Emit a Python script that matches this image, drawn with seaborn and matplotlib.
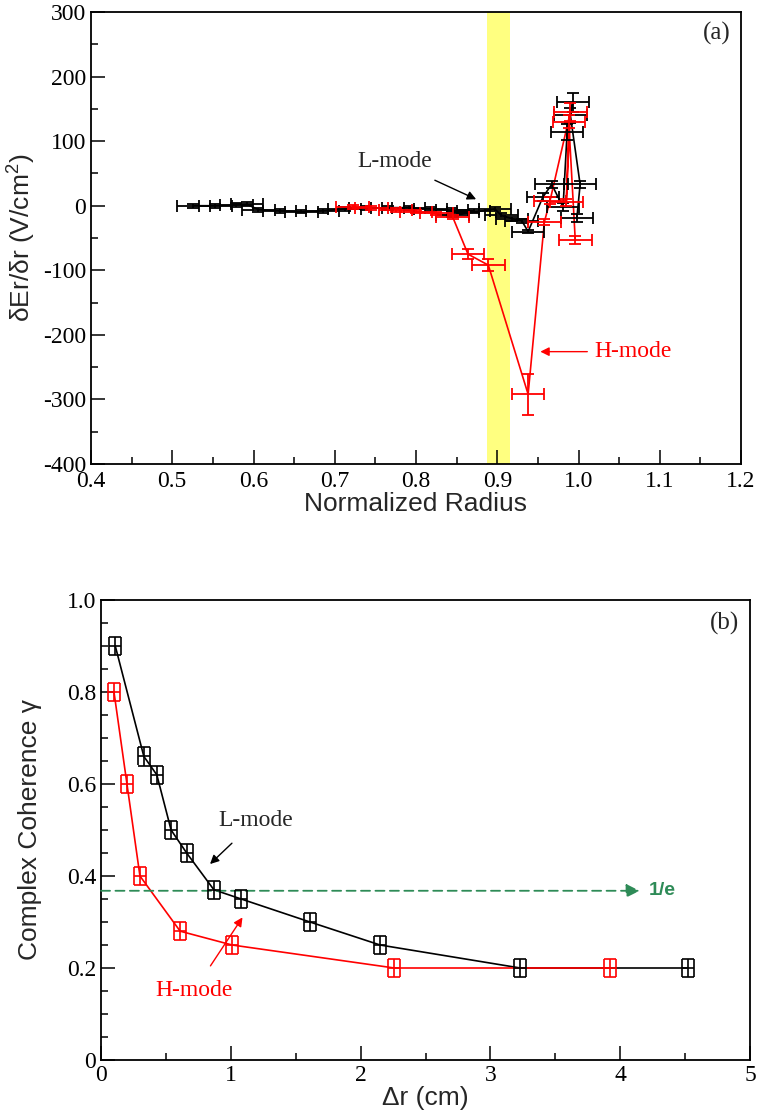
#!/usr/bin/env python3

import numpy as np
import pandas as pd
import matplotlib
matplotlib.use('Agg')
import matplotlib.pyplot as plt
from matplotlib.ticker import MultipleLocator, FixedLocator
import seaborn as sns

# ---- panel (a): dEr/dr vs normalized radius ----
l_x = [0.526, 0.553, 0.579, 0.592, 0.606, 0.632, 0.659, 0.685, 0.712, 0.738,
       0.765, 0.791, 0.818, 0.844, 0.858, 0.871, 0.845, 0.897, 0.905, 0.918,
       0.930, 0.938, 0.956, 0.967, 0.981, 0.986, 0.993, 0.990, 1.002, 0.998]
l_y = [0, 0, 1, 2, -6, -8, -9, -8, -5, -4,
       -3, -3, -5, -7, -9, -8, -15, -5, -15, -20,
       -23, -40, 13, 33, -2, 114, 160, 140, 33, -19]
l_xerr = [0.02] * 30
l_yerr = [3] * 22 + [6, 6, 6, 12, 15, 12, 6, 6]

h_x = [0.722, 0.745, 0.775, 0.800, 0.825, 0.845, 0.864, 0.889, 0.938, 0.958,
       0.965, 0.990, 0.985, 0.988, 0.996]
h_y = [-2, -3, -6, -9, -12, -17, -75, -92, -292, -25,
       8, 145, 5, 130, -53]
h_xerr = [0.02] * 15
h_yerr = [3, 3, 3, 3, 3, 3, 8, 9, 32, 5, 5, 14, 5, 10, 6]

band_lo, band_hi = 0.887, 0.916

# ---- panel (b): coherence vs delta r ----
lb_x = [0.11, 0.33, 0.43, 0.54, 0.66, 0.87, 1.08, 1.61, 2.15, 3.23, 4.52]
lb_y = [0.90, 0.66, 0.62, 0.50, 0.45, 0.37, 0.35, 0.30, 0.25, 0.20, 0.20]
hb_x = [0.10, 0.20, 0.30, 0.61, 1.01, 2.26, 3.92]
hb_y = [0.80, 0.60, 0.40, 0.28, 0.25, 0.20, 0.20]
b_xerr = 0.046
b_yerr = 0.02
one_over_e = 1 / np.e

sns.set_style('ticks')
plt.rcParams['font.family'] = ['Liberation Serif', 'DejaVu Serif']
plt.rcParams['mathtext.fontset'] = 'custom'
plt.rcParams['mathtext.rm'] = 'Liberation Sans'
plt.rcParams['axes.linewidth'] = 1.3
plt.rcParams['axes.unicode_minus'] = False

tick_fs = 17
lab_fs = 19
sans = ['Liberation Sans', 'DejaVu Sans']

fig = plt.figure(figsize=(7.58, 11.19), dpi=100)
ax1 = fig.add_axes([91 / 758, 1 - 464 / 1119, 650 / 758, 452 / 1119])
ax2 = fig.add_axes([101 / 758, 1 - 1060 / 1119, 649 / 758, 460 / 1119])


def style_axes(ax):
	ax.tick_params(which='both', direction='in', top=False, right=False,
		labelsize=tick_fs, width=1.1, colors='black')
	ax.tick_params(which='major', length=10)
	ax.tick_params(which='minor', length=5)
	for s in ax.spines.values():
		s.set_visible(True)
		s.set_color('black')


# panel (a)
ax1.axvspan(band_lo, band_hi, color='#ffff80', lw=0, zorder=0)
top_df = pd.DataFrame({'x': l_x + h_x, 'y': l_y + h_y,
	'mode': ['L'] * len(l_x) + ['H'] * len(h_x)})
sns.lineplot(data=top_df, x='x', y='y', hue='mode', sort=False, estimator=None,
	palette={'L': 'black', 'H': 'red'}, lw=1.2, legend=False, ax=ax1, zorder=3)
ax1.errorbar(l_x, l_y, xerr=l_xerr, yerr=l_yerr, fmt='none', ecolor='black',
	elinewidth=1.3, capsize=4, capthick=1.3, zorder=4)
ax1.errorbar(h_x, h_y, xerr=h_xerr, yerr=h_yerr, fmt='none', ecolor='red',
	elinewidth=1.3, capsize=4, capthick=1.3, zorder=4)
ax1.set_xlim(0.4, 1.2)
ax1.set_ylim(-400, 300)
ax1.xaxis.set_major_locator(MultipleLocator(0.1))
ax1.xaxis.set_minor_locator(MultipleLocator(0.05))
ax1.yaxis.set_major_locator(MultipleLocator(100))
ax1.yaxis.set_minor_locator(MultipleLocator(50))
ax1.set_xticklabels([f'{v:.1f}' for v in ax1.get_xticks()])
style_axes(ax1)
ax1.tick_params(axis='x', pad=5)
ax1.set_xlabel('Normalized Radius', fontsize=lab_fs, family=sans, labelpad=0)
ax1.set_ylabel('\u03b4Er/\u03b4r (V/cm$^2$)', fontsize=lab_fs, family=sans, labelpad=4)
ax1.annotate('L-mode', xy=(0.874, 10), xytext=(0.774, 68), fontsize=17,
	ha='center', va='center',
	arrowprops=dict(arrowstyle='-|>', color='black', lw=1.0, shrinkA=8, shrinkB=0,
		mutation_scale=13))
ax1.annotate('H-mode', xy=(0.953, -226), xytext=(1.02, -226), fontsize=17,
	color='red', ha='left', va='center',
	arrowprops=dict(arrowstyle='-|>', color='red', lw=1.0, shrinkA=3, shrinkB=0,
		mutation_scale=13))
ax1.text(1.17, 267, '(a)', fontsize=18, ha='center', va='center')

# panel (b)
bot_df = pd.DataFrame({'x': lb_x + hb_x, 'y': lb_y + hb_y,
	'mode': ['L'] * len(lb_x) + ['H'] * len(hb_x)})
sns.lineplot(data=bot_df, x='x', y='y', hue='mode', sort=False, estimator=None,
	palette={'L': 'black', 'H': 'red'}, lw=1.2, legend=False, ax=ax2, zorder=3)
for xs, ys, c in [(lb_x, lb_y, 'black'), (hb_x, hb_y, 'red')]:
	ax2.errorbar(xs, ys, xerr=b_xerr, fmt='none', ecolor=c, elinewidth=1.2,
		capsize=6.3, capthick=1.2, zorder=4)
	ax2.errorbar(xs, ys, yerr=b_yerr, fmt='none', ecolor=c, elinewidth=1.2,
		capsize=4.3, capthick=1.2, zorder=4)
ax2.annotate('', xy=(4.15, one_over_e), xytext=(0.0, one_over_e),
	arrowprops=dict(arrowstyle='-|>', color='#2e8b57', lw=1.3, ls=(0, (5, 3)),
		shrinkA=0, shrinkB=0, mutation_scale=20))
ax2.text(4.22, one_over_e, '1/e', color='#2e8b57', fontsize=14, fontweight='bold',
	family=sans, ha='left', va='center')
ax2.set_xlim(0, 5)
ax2.set_ylim(0, 1.0)
ax2.xaxis.set_major_locator(MultipleLocator(1))
ax2.xaxis.set_minor_locator(MultipleLocator(0.5))
ax2.yaxis.set_major_locator(FixedLocator([0, 0.2, 0.4, 0.6, 0.8, 1.0]))
ax2.yaxis.set_minor_locator(MultipleLocator(0.05))
ax2.set_yticklabels(['0', '0.2', '0.4', '0.6', '0.8', '1.0'])
style_axes(ax2)
ax2.set_xlabel('\u0394r (cm)', fontsize=lab_fs, family=sans, labelpad=0)
ax2.set_ylabel('Complex Coherence \u03b3', fontsize=lab_fs, family=sans, labelpad=18)
ax2.annotate('L-mode', xy=(0.84, 0.426), xytext=(1.19, 0.52), fontsize=17,
	ha='center', va='center',
	arrowprops=dict(arrowstyle='-|>', color='black', lw=1.0, shrinkA=9, shrinkB=0,
		mutation_scale=13))
ax2.annotate('H-mode', xy=(1.09, 0.31), xytext=(0.72, 0.152), fontsize=17,
	color='red', ha='center', va='center',
	arrowprops=dict(arrowstyle='-|>', color='red', lw=1.0, shrinkA=9, shrinkB=0,
		mutation_scale=13))
ax2.text(4.8, 0.95, '(b)', fontsize=18, ha='center', va='center')

fig.savefig('out.png', dpi=100)
